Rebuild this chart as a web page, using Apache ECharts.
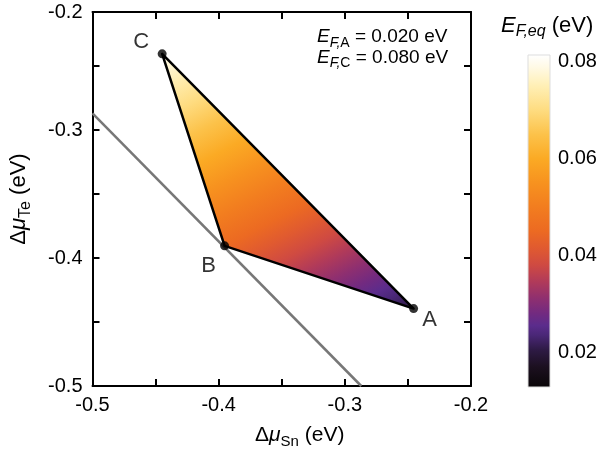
<!DOCTYPE html>
<html><head><meta charset="utf-8">
<script src="https://cdn.jsdelivr.net/npm/echarts@6/dist/echarts.min.js"></script>
<style>html,body{margin:0;padding:0;background:#fff}#c{width:600px;height:454px}</style>
</head><body><div id="c"></div>
<script>
// ---- data ----
const pointNames = ['A', 'B', 'C'];
const muSn = [-0.2455, -0.3953, -0.4448];
const muTe = [-0.4395, -0.3905, -0.2405];
const efEq = [0.020, 0.045, 0.080];
const boundarySn = [-0.5, -0.287];
const boundaryTe = [-0.287, -0.5];
const xTickLabels = [-0.5, -0.4, -0.3, -0.2];
const yTickLabels = [-0.5, -0.4, -0.3, -0.2];
const cbTickLabels = [0.02, 0.04, 0.06, 0.08];
const xMin = -0.5, xMax = -0.2, yMin = -0.5, yMax = -0.2078;
const cbMin = 0.0128, cbMax = 0.0814;
const cmapValues = [0.0128, 0.0170, 0.0205, 0.0235, 0.0255, 0.0280, 0.0310, 0.0345, 0.0380, 0.0415, 0.0450, 0.0500, 0.0550, 0.0600, 0.0650, 0.0700, 0.0750, 0.0790, 0.0814];
const cmapColors = ['#0a0608', '#1c1020', '#2e1a45', '#4a2777', '#5b2c8c', '#722a80', '#8e2f70', '#b03a5a', '#cf4a42', '#e05a30', '#ec6a22', '#f27d1f', '#f7921f', '#fbaa24', '#fcc24a', '#fedc80', '#ffefb5', '#fffae6', '#ffffff'];

// ---- styling ----
const FONT = '"Liberation Sans", Arial, Helvetica, sans-serif';
const labelOffsets = { A: [16, 11], B: [-16, 20], C: [-21, -12] };
const stops = cmapValues.map((v, i) => ({ offset: (v - cbMin) / (cbMax - cbMin), color: cmapColors[i] }));

function makeRich(main, sub, pad) {
  return {
    n: { fontFamily: FONT, fontSize: main, fontWeight: 'normal', color: '#000' },
    i: { fontFamily: FONT, fontSize: main, fontStyle: 'italic', fontWeight: 'normal', color: '#000' },
    si: { fontFamily: FONT, fontSize: sub, fontStyle: 'italic', fontWeight: 'normal', color: '#000', padding: [pad, 0, 0, 0] },
    su: { fontFamily: FONT, fontSize: sub, fontWeight: 'normal', color: '#000', padding: [pad, 0, 0, 0] }
  };
}
const richAnno = makeRich(19, 14, 12);
const richName = makeRich(21, 15, 13);
const richNameY = makeRich(22, 16, 13);
const richCb = makeRich(22, 16, 13);

const chart = echarts.init(document.getElementById('c'), null, { renderer: 'canvas' });

const axisCommon = {
  type: 'value',
  axisLine: { show: true, onZero: false, lineStyle: { color: '#000', width: 2 } },
  axisTick: { show: true, inside: true, length: 7, lineStyle: { color: '#000', width: 2 } },
  splitLine: { show: false }
};
const tickFont = { fontFamily: FONT, fontSize: 20, color: '#000' };

chart.setOption({
  animation: false,
  backgroundColor: '#fff',
  title: [
    { text: '{i|E}{si|F,}{su|A}{n| = 0.020 eV}', left: 312, top: 19, textStyle: { rich: richAnno } },
    { text: '{i|E}{si|F,}{su|C}{n| = 0.080 eV}', left: 312, top: 39.5, textStyle: { rich: richAnno } },
    { text: '{i|E}{si|F,eq}{n| (eV)}', left: 496, top: 6, textStyle: { rich: richCb } }
  ],
  grid: [
    { left: 87, top: 12, width: 384, height: 374 },
    { left: 528, top: 55, width: 22, height: 332 }
  ],
  xAxis: [
    Object.assign({}, axisCommon, {
      gridIndex: 0, position: 'bottom', min: xMin, max: xMax, interval: 0.05,
      axisLabel: Object.assign({ customValues: xTickLabels, formatter: v => v.toFixed(1), margin: 9 }, tickFont),
      name: '{n|Δ}{i|μ}{su|Sn}{n| (eV)}', nameLocation: 'middle', nameGap: 35,
      nameTextStyle: { rich: richName, padding: [0, 0, 0, 36] }
    }),
    Object.assign({}, axisCommon, {
      gridIndex: 0, position: 'top', min: xMin, max: xMax, interval: 0.05,
      axisLabel: { show: false }
    }),
    { type: 'value', gridIndex: 1, min: 0, max: 1, show: false }
  ],
  yAxis: [
    Object.assign({}, axisCommon, {
      gridIndex: 0, position: 'left', min: yMin, max: yMax, interval: 0.05,
      axisLabel: Object.assign({ customValues: yTickLabels.map(v => Math.min(v, yMax)), formatter: v => v.toFixed(1), margin: 10 }, tickFont),
      name: '{n|Δ}{i|μ}{su|Te}{n| (eV)}', nameLocation: 'middle', nameRotate: 90, nameGap: 59,
      nameTextStyle: { rich: richNameY }
    }),
    Object.assign({}, axisCommon, {
      gridIndex: 0, position: 'right', min: yMin, max: yMax, interval: 0.05,
      axisLabel: { show: false }
    }),
    {
      type: 'value', gridIndex: 1, position: 'right', min: cbMin, max: cbMax,
      axisLine: { show: false }, axisTick: { show: false }, splitLine: { show: false },
      axisLabel: Object.assign({ customValues: cbTickLabels, formatter: v => v.toFixed(2), margin: 8 }, tickFont)
    }
  ],
  series: [
    {
      type: 'line', xAxisIndex: 0, yAxisIndex: 0, z: 1,
      data: boundarySn.map((x, i) => [x, boundaryTe[i]]),
      symbol: 'none', lineStyle: { color: '#777', width: 2.5 }, silent: true
    },
    {
      type: 'custom', xAxisIndex: 0, yAxisIndex: 0, z: 2,
      data: muSn.map((x, i) => [x, muTe[i], efEq[i]]),
      encode: { x: 0, y: 1 },
      renderItem: function (params, api) {
        if (params.dataIndex !== 0) return null;
        const pts = muSn.map((x, i) => api.coord([x, muTe[i]]));
        const [p0, p1, p2] = pts;
        const [v0, v1, v2] = efEq;
        const dx1 = p1[0] - p0[0], dy1 = p1[1] - p0[1], dv1 = v1 - v0;
        const dx2 = p2[0] - p0[0], dy2 = p2[1] - p0[1], dv2 = v2 - v0;
        const det = dx1 * dy2 - dy1 * dx2;
        const a = (dv1 * dy2 - dy1 * dv2) / det;
        const b = (dx1 * dv2 - dv1 * dx2) / det;
        const g2 = a * a + b * b;
        const s0 = (cbMin - v0) / g2, s1 = (cbMax - v0) / g2;
        const grad = new echarts.graphic.LinearGradient(
          p0[0] + a * s0, p0[1] + b * s0, p0[0] + a * s1, p0[1] + b * s1, stops, true);
        return {
          type: 'polygon', shape: { points: pts },
          style: { fill: grad, stroke: '#000', lineWidth: 2.5, lineJoin: 'round' }
        };
      }
    },
    {
      type: 'scatter', xAxisIndex: 0, yAxisIndex: 0, z: 3,
      symbol: 'circle', symbolSize: 9, itemStyle: { color: '#000' },
      data: muSn.map((x, i) => ({
        value: [x, muTe[i]], name: pointNames[i],
        label: { show: true, position: 'inside', offset: labelOffsets[pointNames[i]], formatter: pointNames[i],
          fontFamily: FONT, fontSize: 22, color: '#000' }
      }))
    },
    {
      type: 'custom', xAxisIndex: 2, yAxisIndex: 2, z: 2,
      data: [[0, cbMin], [1, cbMax]],
      renderItem: function (params, api) {
        if (params.dataIndex !== 0) return null;
        const tl = api.coord([0, cbMax]);
        const br = api.coord([1, cbMin]);
        const grad = new echarts.graphic.LinearGradient(0, br[1], 0, tl[1], stops, true);
        return {
          type: 'rect', shape: { x: tl[0], y: tl[1], width: br[0] - tl[0], height: br[1] - tl[1] },
          style: { fill: grad, stroke: '#ddd', lineWidth: 1 }
        };
      }
    }
  ]
});
</script>
</body></html>
